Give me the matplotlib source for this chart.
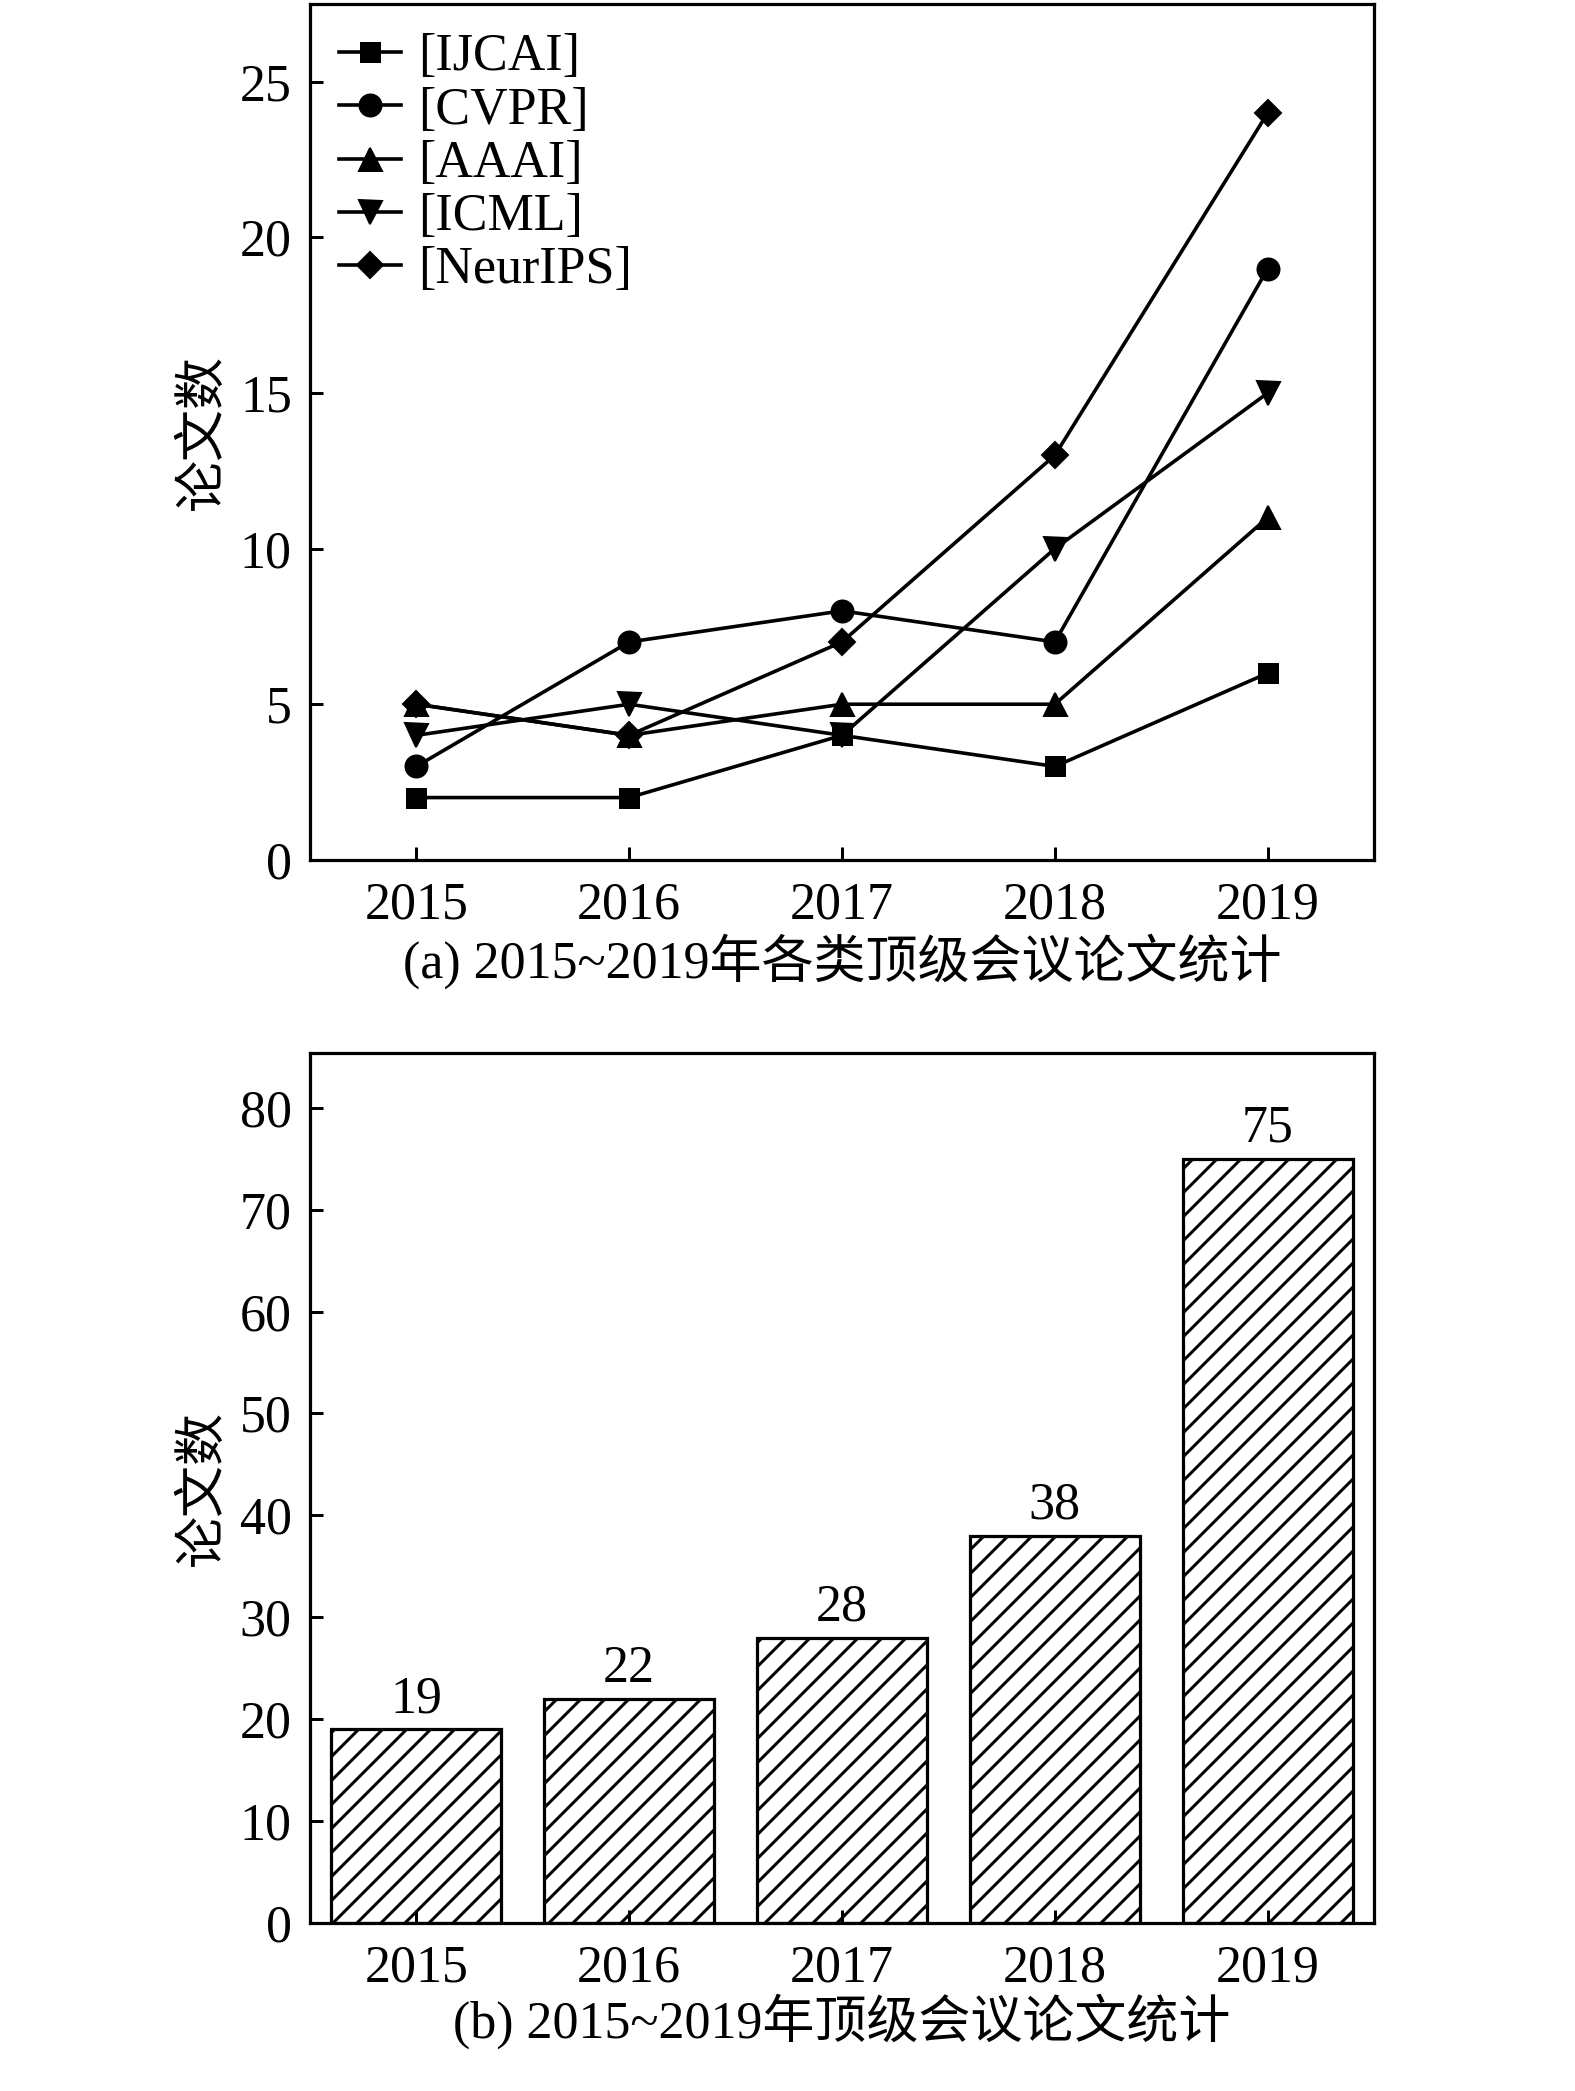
import matplotlib
matplotlib.use("Agg")
import matplotlib.pyplot as plt

plt.rcParams['font.family'] = ['Liberation Serif', 'Noto Sans CJK SC']
plt.rcParams['font.size'] = 26
plt.rcParams['hatch.linewidth'] = 1.5
plt.rcParams['axes.linewidth'] = 1.6

# data
years = [2015, 2016, 2017, 2018, 2019]
ijcai = [2, 2, 4, 3, 6]
cvpr = [3, 7, 8, 7, 19]
aaai = [5, 4, 5, 5, 11]
icml = [4, 5, 4, 10, 15]
neurips = [5, 4, 7, 13, 24]
totals = [19, 22, 28, 38, 75]

series = [
    ("[IJCAI]", ijcai, "s", 9.5),
    ("[CVPR]", cvpr, "o", 11),
    ("[AAAI]", aaai, "^", 11.5),
    ("[ICML]", icml, "v", 11.5),
    ("[NeurIPS]", neurips, "D", 9.5),
]

fig = plt.figure(figsize=(1575 / 144, 2091 / 144), dpi=144)

# (a) line chart
ax1 = fig.add_axes([0.1967, 0.5888, 0.6758, 0.4093])
for label, vals, mk, ms in series:
    ax1.plot(years, vals, color="black", lw=1.8, marker=mk, ms=ms, label=label)
ax1.set_xlim(2014.5, 2019.5)
ax1.set_ylim(0, 27.5)
ax1.set_xticks(years)
ax1.set_yticks([0, 5, 10, 15, 20, 25])
ax1.tick_params(axis="x", direction="in", length=6.5, width=1.5, top=False, pad=11)
ax1.tick_params(axis="y", direction="in", length=6.5, width=1.5, right=False, pad=9)
ax1.set_ylabel("论文数", labelpad=6)
ax1.set_xlabel("(a) 2015~2019年各类顶级会议论文统计", labelpad=2)
ax1.legend(loc="upper left", frameon=False, handlelength=1.2, handletextpad=0.33,
           labelspacing=0.1, borderaxespad=0.0, bbox_to_anchor=(0.0075, 0.99))

# (b) bar chart
ax2 = fig.add_axes([0.1967, 0.0804, 0.6758, 0.4161])
bars = ax2.bar(years, totals, width=0.8, facecolor="white", edgecolor="black",
               linewidth=1.6, hatch="//")
for b, v in zip(bars, totals):
    ax2.text(b.get_x() + b.get_width() / 2, v + 0.6, str(v), ha="center", va="bottom")
ax2.set_xlim(2014.5, 2019.5)
ax2.set_ylim(0, 85.4)
ax2.set_xticks(years)
ax2.set_yticks(range(0, 81, 10))
ax2.tick_params(axis="x", direction="in", length=6.5, width=1.5, top=False, pad=11)
ax2.tick_params(axis="y", direction="in", length=6.5, width=1.5, right=False, pad=9)
ax2.set_ylabel("论文数", labelpad=6)
ax2.set_xlabel("(b) 2015~2019年顶级会议论文统计", labelpad=0)

fig.savefig("out.png", dpi=144)
